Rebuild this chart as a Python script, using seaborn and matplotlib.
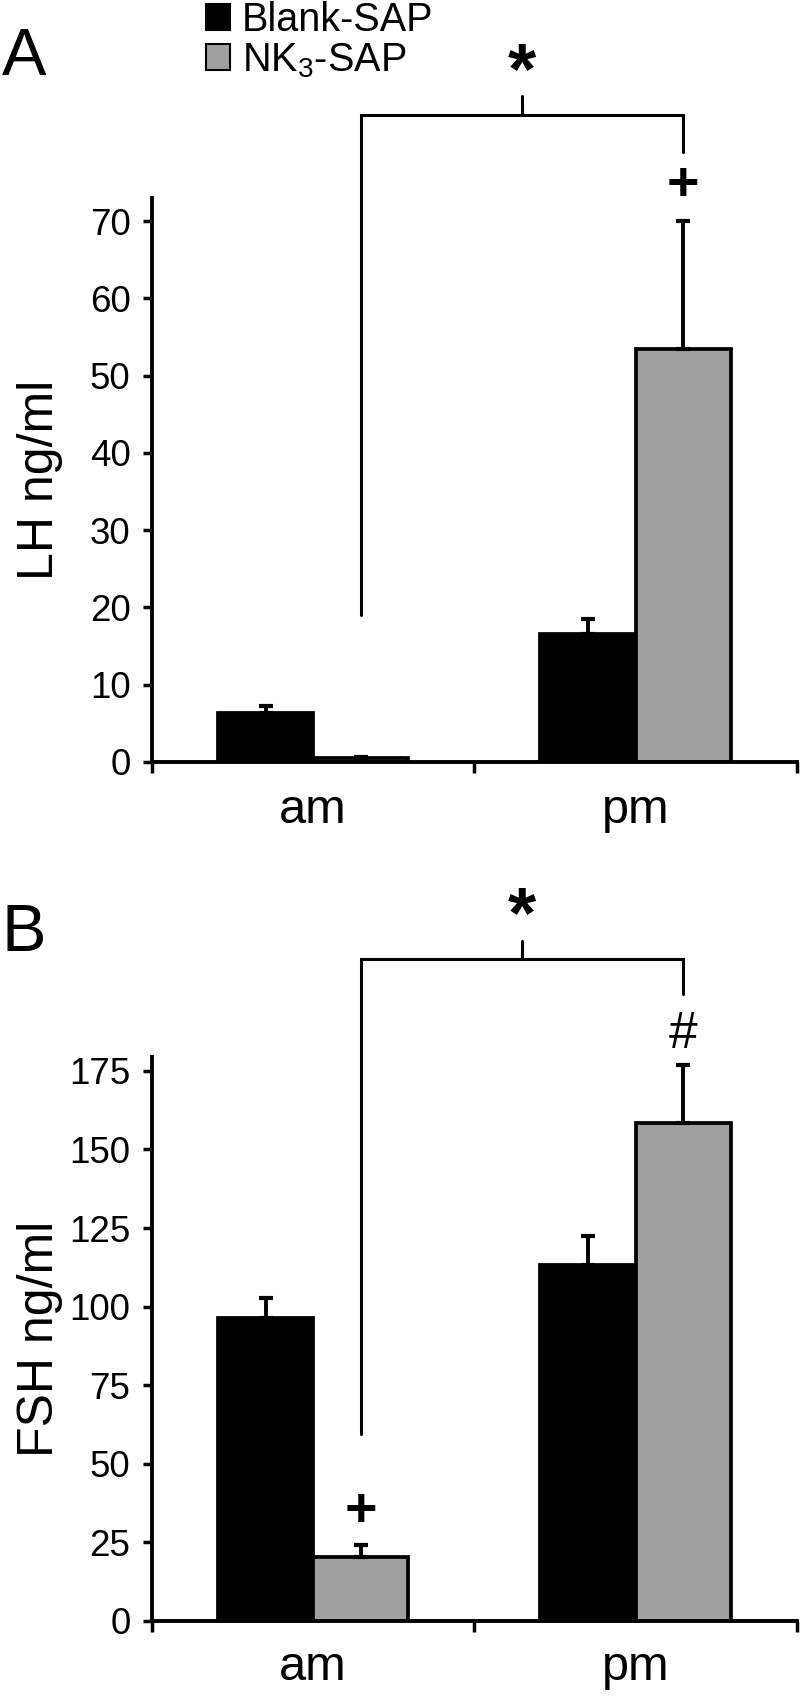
import matplotlib
matplotlib.use("Agg")
import numpy as np
import pandas as pd
import seaborn as sns
import matplotlib.pyplot as plt
from matplotlib.patches import Patch
from matplotlib.ticker import FixedLocator

# data (means, upper SEM)
times = ["am", "pm"]
groups = ["Blank-SAP", "NK$_3$-SAP"]

lh_blank = [6.3, 16.6]
lh_blank_sem = [1.0, 1.9]
lh_nk3 = [0.5, 53.5]
lh_nk3_sem = [0.15, 16.5]

fsh_blank = [96.4, 113.2]
fsh_blank_sem = [6.2, 9.2]
fsh_nk3 = [20.4, 158.4]
fsh_nk3_sem = [3.8, 18.4]

lh_ticks = [0, 10, 20, 30, 40, 50, 60, 70]
fsh_ticks = [0, 25, 50, 75, 100, 125, 150, 175]

colors = ["black", "#a0a0a0"]


def make_df(blank, nk3):
    return pd.DataFrame({
        "time": times * 2,
        "group": [groups[0]] * 2 + [groups[1]] * 2,
        "value": blank + nk3,
    })


sns.set_style("ticks")
plt.rcParams["font.family"] = ["Liberation Sans", "DejaVu Sans"]
plt.rcParams["mathtext.fontset"] = "custom"
plt.rcParams["mathtext.rm"] = "Liberation Sans"
plt.rcParams["text.color"] = "black"
plt.rcParams["axes.labelcolor"] = "black"
plt.rcParams["xtick.color"] = "black"
plt.rcParams["ytick.color"] = "black"
plt.rcParams["axes.edgecolor"] = "black"

fig = plt.figure(figsize=(8, 16.97), dpi=100)
axA = fig.add_axes([0.19, 0.551, 0.806, 0.3323])
axB = fig.add_axes([0.19, 0.0448, 0.806, 0.3325])


def draw_panel(ax, blank, blank_sem, nk3, nk3_sem, ymax, yticks, ylabel, xpad):
    df = make_df(blank, nk3)
    sns.barplot(data=df, x="time", y="value", hue="group", hue_order=groups,
                palette=colors, width=0.59, errorbar=None, saturation=1,
                edgecolor="black", linewidth=2.7, legend=False, ax=ax)
    # upper error bars only
    for cont, sem in zip(ax.containers, [blank_sem, nk3_sem]):
        xs = [p.get_x() + p.get_width() / 2 for p in cont.patches]
        hs = [p.get_height() for p in cont.patches]
        ax.errorbar(xs, hs, yerr=[np.zeros(len(sem)), sem], fmt="none",
                    ecolor="black", elinewidth=2.8, capsize=4.7, capthick=3,
                    zorder=1)
    ax.set_xlim(-0.5, 1.5)
    ax.set_ylim(0, ymax)
    ax.set_yticks(yticks)
    ax.tick_params(axis="y", labelsize=26.5, length=6.5, width=2.5, pad=9)
    ax.tick_params(axis="x", which="major", labelsize=35, length=0, pad=xpad)
    ax.xaxis.set_minor_locator(FixedLocator([-0.5, 0.5, 1.5]))
    ax.tick_params(axis="x", which="minor", length=8, width=2.5)
    ax.set_xlabel("")
    ax.set_ylabel(ylabel, fontsize=36)
    ax.yaxis.set_label_coords(-0.138, 0.5)
    sns.despine(ax=ax)
    for s in ["left", "bottom"]:
        ax.spines[s].set_linewidth(2.8)
    gray = ax.containers[1].patches
    return [p.get_x() + p.get_width() / 2 for p in gray]


gx = draw_panel(axA, lh_blank, lh_blank_sem, lh_nk3, lh_nk3_sem, 73,
                lh_ticks, "LH ng/ml", 19)
xc = (gx[0] + gx[1]) / 2
axA.plot([gx[0], gx[0], gx[1], gx[1]], [19, 83.8, 83.8, 79], color="black",
         lw=2.2, clip_on=False, solid_joinstyle="miter")
axA.plot([xc, xc], [83.8, 86.2], color="black", lw=2.2, clip_on=False)
axA.text(xc, 89.0, "*", ha="center", va="center", fontsize=52,
         fontweight="bold", clip_on=False)
axA.text(gx[1], 74.5, "+", ha="center", va="center", fontsize=40,
         fontweight="bold", clip_on=False)

gx = draw_panel(axB, fsh_blank, fsh_blank_sem, fsh_nk3, fsh_nk3_sem, 179.5,
                fsh_ticks, "FSH ng/ml", 17)
xc = (gx[0] + gx[1]) / 2
axB.plot([gx[0], gx[0], gx[1], gx[1]], [59.5, 210.7, 210.7, 199.3],
         color="black", lw=2.2, clip_on=False, solid_joinstyle="miter")
axB.plot([xc, xc], [210.7, 216.3], color="black", lw=2.2, clip_on=False)
axB.text(xc, 223.5, "*", ha="center", va="center", fontsize=52,
         fontweight="bold", clip_on=False)
axB.text(gx[1], 186.6, "#", ha="center", va="center", fontsize=37,
         clip_on=False)
axB.text(gx[0], 34.8, "+", ha="center", va="center", fontsize=40,
         fontweight="bold", clip_on=False)

# panel letters
fig.text(0.002, 1 - 58 / 1697, "A", fontsize=48, va="center", ha="left")
fig.text(0.002, 1 - 934 / 1697, "B", fontsize=48, va="center", ha="left")

# legend
handles = [Patch(facecolor=colors[0], edgecolor="black", linewidth=1.5),
           Patch(facecolor=colors[1], edgecolor="black", linewidth=1.5)]
fig.legend(handles, groups, loc="upper left",
           bbox_to_anchor=(206 / 800, 1 - 1 / 1697), frameon=False,
           fontsize=28.5, handlelength=0.6, handleheight=0.6,
           handletextpad=0.3, labelspacing=0.05, borderpad=0,
           borderaxespad=0)

fig.savefig("out.png", dpi=100)
